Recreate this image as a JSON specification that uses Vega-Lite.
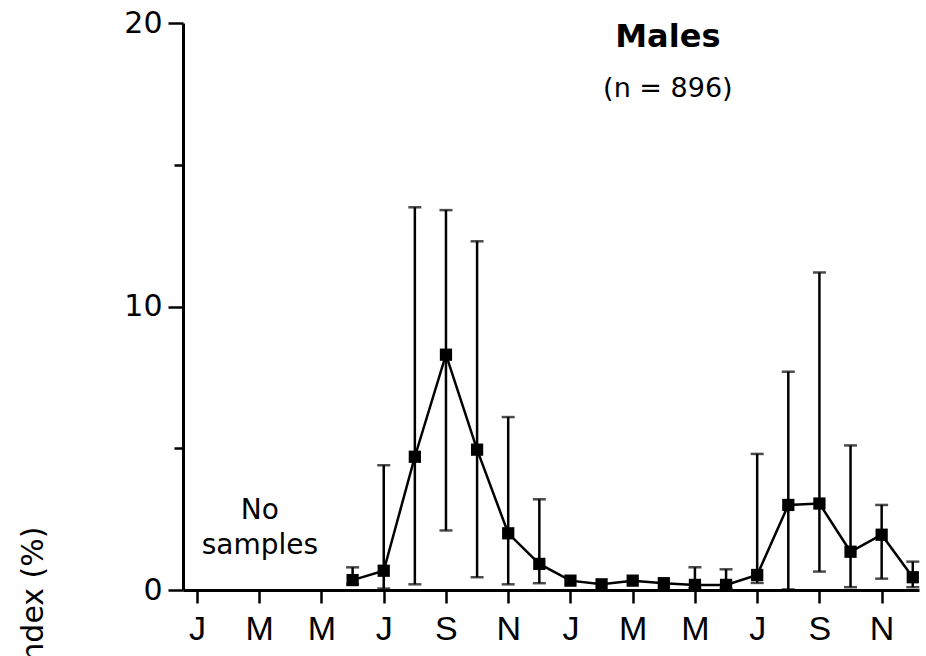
{
  "$schema": "https://vega.github.io/schema/vega-lite/v6.json",
  "width": 736,
  "height": 567,
  "autosize": "none",
  "padding": {"left": 183, "top": 23, "right": 7, "bottom": 66},
  "background": "white",
  "config": {
    "view": {"stroke": null},
    "font": "DejaVu Sans",
    "axis": {
      "grid": false,
      "domainColor": "black",
      "domainWidth": 3,
      "tickColor": "black",
      "tickWidth": 2.5,
      "labelColor": "black",
      "titleColor": "black"
    }
  },
  "datasets": {
    "males": [
      {"month": 6, "index": 0.35, "lo": 0.2, "hi": 0.8},
      {"month": 7, "index": 0.68, "lo": 0.05, "hi": 4.4},
      {"month": 8, "index": 4.7, "lo": 0.2, "hi": 13.5},
      {"month": 9, "index": 8.3, "lo": 2.1, "hi": 13.4},
      {"month": 10, "index": 4.95, "lo": 0.45, "hi": 12.3},
      {"month": 11, "index": 2.0, "lo": 0.2, "hi": 6.1},
      {"month": 12, "index": 0.92, "lo": 0.24, "hi": 3.2},
      {"month": 13, "index": 0.33, "lo": null, "hi": null},
      {"month": 14, "index": 0.2, "lo": null, "hi": null},
      {"month": 15, "index": 0.33, "lo": null, "hi": null},
      {"month": 16, "index": 0.24, "lo": null, "hi": null},
      {"month": 17, "index": 0.18, "lo": 0.05, "hi": 0.8},
      {"month": 18, "index": 0.18, "lo": 0.05, "hi": 0.73},
      {"month": 19, "index": 0.53, "lo": 0.25, "hi": 4.8},
      {"month": 20, "index": 3.0, "lo": 0.02, "hi": 7.7},
      {"month": 21, "index": 3.05, "lo": 0.65, "hi": 11.2},
      {"month": 22, "index": 1.35, "lo": 0.1, "hi": 5.1},
      {"month": 23, "index": 1.95, "lo": 0.4, "hi": 3.0},
      {"month": 24, "index": 0.45, "lo": 0.1, "hi": 1.0}
    ]
  },
  "data": {"name": "males"},
  "layer": [
    {
      "mark": {"type": "rule", "color": "black", "strokeWidth": 2.5},
      "encoding": {
        "x": {
          "field": "month",
          "type": "quantitative",
          "scale": {"domain": [0.55, 24.2], "nice": false, "zero": false},
          "axis": {
            "title": null,
            "values": [1,2,3,4,5,6,7,8,9,10,11,12,13,14,15,16,17,18,19,20,21,22,23,24],
            "tickSize": 13,
            "labelPadding": 9,
            "labelFont": "Liberation Sans",
            "labelFontSize": 34,
            "labelExpr": "datum.value % 2 == 1 ? ['J','F','M','A','M','J','J','A','S','O','N','D'][(datum.value - 1) % 12] : ''",
            "labelFlush": false,
            "labelOverlap": false
          }
        },
        "y": {
          "field": "lo",
          "type": "quantitative",
          "scale": {"domain": [0, 20], "nice": false},
          "axis": {
            "title": "Index (%)",
            "titleFont": "DejaVu Sans",
            "titleFontSize": 30,
            "titleFontWeight": "normal",
            "titleAngle": -90,
            "titleAlign": "center",
            "titleBaseline": "alphabetic",
            "titleX": -141,
            "titleY": 575,
            "values": [0, 5, 10, 15, 20],
            "labelExpr": "datum.value % 10 == 0 ? datum.label : ''",
            "labelFont": "DejaVu Sans",
            "labelFontSize": 30,
            "tickSize": {"condition": {"test": "datum.value % 10 == 0", "value": 15}, "value": 9},
            "labelPadding": 6,
            "labelFlush": false,
            "labelOverlap": false
          }
        },
        "y2": {"field": "hi"}
      }
    },
    {
      "mark": {"type": "tick", "color": "black", "size": 13, "thickness": 2.5, "orient": "horizontal"},
      "encoding": {
        "x": {"field": "month", "type": "quantitative"},
        "y": {"field": "hi", "type": "quantitative"}
      }
    },
    {
      "mark": {"type": "tick", "color": "black", "size": 13, "thickness": 2.5, "orient": "horizontal"},
      "encoding": {
        "x": {"field": "month", "type": "quantitative"},
        "y": {"field": "lo", "type": "quantitative"}
      }
    },
    {
      "mark": {"type": "line", "color": "black", "strokeWidth": 2.5},
      "encoding": {
        "x": {"field": "month", "type": "quantitative"},
        "y": {"field": "index", "type": "quantitative"}
      }
    },
    {
      "mark": {"type": "square", "color": "black", "filled": true, "opacity": 1, "size": 150},
      "encoding": {
        "x": {"field": "month", "type": "quantitative"},
        "y": {"field": "index", "type": "quantitative"}
      }
    },
    {
      "data": {"values": [{"t": "Males"}]},
      "mark": {"type": "text", "font": "DejaVu Sans", "fontWeight": "bold", "fontSize": 32, "color": "black", "align": "center", "baseline": "middle"},
      "encoding": {
        "x": {"datum": 16.13, "type": "quantitative"},
        "y": {"datum": 19.5, "type": "quantitative"},
        "text": {"field": "t"}
      }
    },
    {
      "data": {"values": [{"t": "(n = 896)"}]},
      "mark": {"type": "text", "font": "DejaVu Sans", "fontSize": 27, "color": "black", "align": "center", "baseline": "middle"},
      "encoding": {
        "x": {"datum": 16.13, "type": "quantitative"},
        "y": {"datum": 17.66, "type": "quantitative"},
        "text": {"field": "t"}
      }
    },
    {
      "data": {"values": [{"t": ["No", "samples"]}]},
      "mark": {"type": "text", "font": "DejaVu Sans", "fontSize": 28, "color": "black", "align": "center", "baseline": "middle", "lineHeight": 35},
      "encoding": {
        "x": {"datum": 3.02, "type": "quantitative"},
        "y": {"datum": 2.8, "type": "quantitative"},
        "text": {"field": "t"}
      }
    }
  ]
}
